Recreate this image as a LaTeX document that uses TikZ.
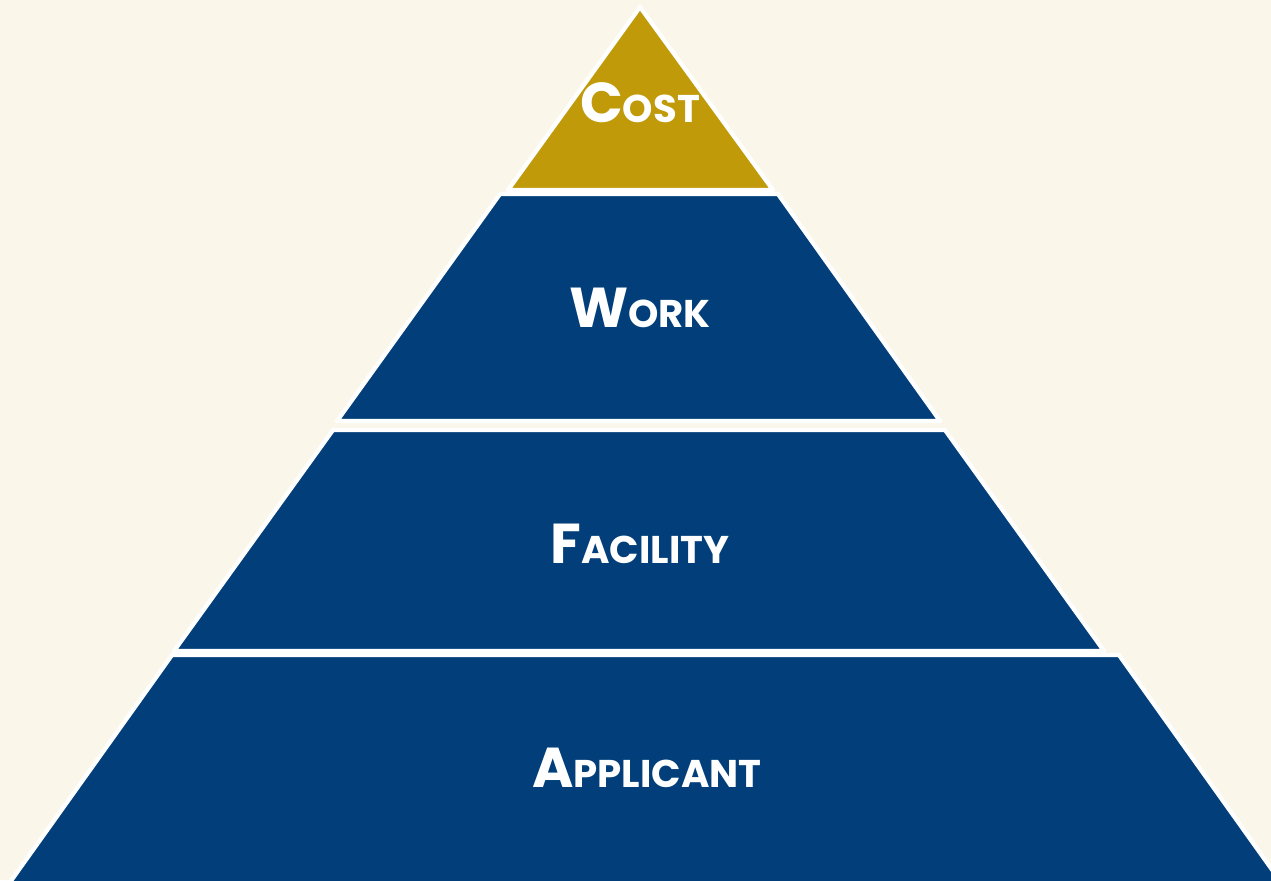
\documentclass[tikz,border=0pt]{standalone}
\usepackage{fontspec}
\setmainfont{Poppins}
\usepackage{xcolor}
\usepackage{tikz}
\usetikzlibrary{positioning,calc}

\definecolor{paper}{HTML}{FAF7EA}
\definecolor{gold}{HTML}{C09A08}
\definecolor{navy}{HTML}{023F7A}

% big initial, small-cap rest
\newcommand{\tiername}[2]{{\fontsize{32}{36}\selectfont #1}{\fontsize{22}{26}\selectfont #2}}

\tikzset{
    tier/.style={draw=white, line width=0.085cm, line join=round},
    tierlabel/.style={text=white, font=\bfseries, inner sep=0pt, anchor=base}
}

\begin{document}
\begin{tikzpicture}[x=0.02cm, y=-0.02cm]
    % Canvas
    \fill[paper] (0,0) rectangle (1271,880);
    \useasboundingbox (0,0) rectangle (1271,880);
    \clip (0,0) rectangle (1271,880);

    % Tiers of the pyramid
    \draw[tier, fill=gold] (640,7) -- (773,190) -- (508,190) -- cycle;
    \draw[tier, fill=navy] (500,194) -- (778,194) -- (940,421) -- (337,421) -- cycle;
    \draw[tier, fill=navy] (333,430) -- (945,430) -- (1104,651) -- (174,651) -- cycle;
    \draw[tier, fill=navy] (172,655) -- (1119,655) -- (1283,885) -- (8,885) -- cycle;

    % Labels
    \node[tierlabel] (cost) at (640,122) {\tiername{C}{OST}};
    \node[tierlabel] (work) at (640,327) {\tiername{W}{ORK}};
    \node[tierlabel] (facility) at (640,563) {\tiername{F}{ACILITY}};
    \node[tierlabel] (applicant) at (647,787) {\tiername{A}{PPLICANT}};
\end{tikzpicture}
\end{document}
